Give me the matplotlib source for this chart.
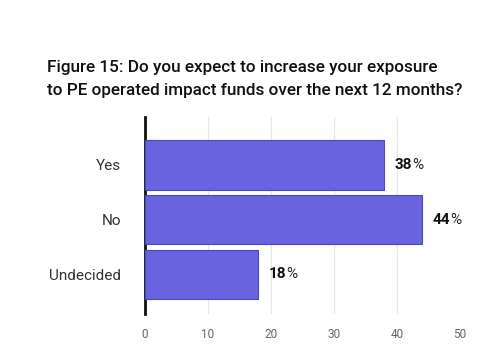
import matplotlib
matplotlib.use("Agg")
import matplotlib.pyplot as plt

categories = ["Yes", "No", "Undecided"]
values = [38, 44, 18]
xticks = [0, 10, 20, 30, 40, 50]
title = "Figure 15: Do you expect to increase your exposure\nto PE operated impact funds over the next 12 months?"

plt.rcParams['font.family'] = ['Roboto', 'DejaVu Sans']

fig = plt.figure(figsize=(5, 3.64), dpi=100)
ax = fig.add_axes([0.29, 0.137, 0.63, 0.542])

y = list(range(len(categories)))
ax.barh(y, values, height=0.9, color="#6A63E0", edgecolor="#4E48C0", linewidth=0.8, zorder=3)
ax.set_ylim(2.73, -0.88)
ax.set_xlim(0, 50)
ax.set_xticks(xticks)
ax.set_xticklabels([str(t) for t in xticks])
ax.set_yticks(y)
ax.set_yticklabels(categories)
ax.grid(axis="x", color="#E6E6E6", linewidth=0.8, zorder=0)
for s in ["top", "right", "bottom"]:
    ax.spines[s].set_visible(False)
ax.spines["left"].set_linewidth(2)
ax.spines["left"].set_color("#111111")
ax.tick_params(axis="x", length=0, labelsize=8.5, labelcolor="#666666", pad=10)
ax.tick_params(axis="y", length=0, labelsize=11, labelcolor="#333333", pad=17)

for yi, v in zip(y, values):
    t = ax.text(v + 1.6, yi, str(v), va="center", ha="left", fontsize=11,
                fontweight="bold", color="#111111")
    ax.annotate("%", xy=(1, 0.5), xycoords=t, va="center", ha="left",
                fontsize=11, color="#222222")

fig.text(0.094, 0.73, title, fontsize=12.3, fontweight="medium", color="#111111",
         va="bottom", ha="left", linespacing=1.7)

fig.savefig("out.png", dpi=100, facecolor="white")
